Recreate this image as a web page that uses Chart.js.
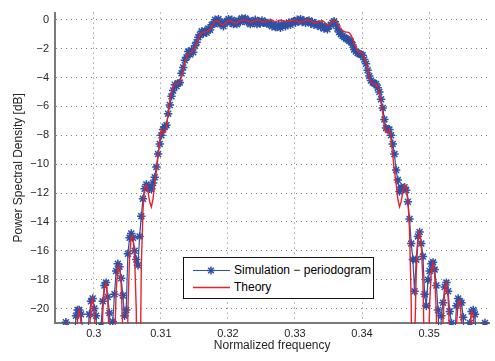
<!DOCTYPE html>
<html>
<head>
<meta charset="utf-8">
<script src="https://cdn.jsdelivr.net/npm/chart.js@4.4.1/dist/chart.umd.min.js"></script>
<style>
  html, body { margin: 0; padding: 0; background: #fff; overflow: hidden; }
  #wrap { position: relative; width: 495px; height: 361px; }
  #legend {
    position: absolute; left: 183px; top: 257px; width: 189px; height: 40px;
    border: 1px solid #111; background: #fff;
    font: 12px "Liberation Sans", Arial, Helvetica, sans-serif; color: #000;
  }
  #legend svg { position: absolute; left: 0; top: 0; }
  #legend .txt { position: absolute; left: 50px; line-height: 14px; white-space: nowrap; }
</style>
</head>
<body>
<div id="wrap">
  <canvas id="psdChart" width="495" height="361"></canvas>
  <div id="legend">
    <svg width="48" height="40">
      <line x1="9" y1="12.5" x2="46" y2="12.5" stroke="#2E50A5" stroke-width="1.2"/>
      <g stroke="#2E50A5" stroke-width="1.5">
        <line x1="23" y1="12.5" x2="31" y2="12.5"/>
        <line x1="27" y1="8.5" x2="27" y2="16.5"/>
        <line x1="24.2" y1="9.7" x2="29.8" y2="15.3"/>
        <line x1="24.2" y1="15.3" x2="29.8" y2="9.7"/>
      </g>
      <line x1="9" y1="29.5" x2="46" y2="29.5" stroke="#E6232B" stroke-width="1.4"/>
    </svg>
    <span class="txt" style="top:5px">Simulation &#8722; periodogram</span>
    <span class="txt" style="top:22px">Theory</span>
  </div>
</div>
<script>
// Power spectral density: simulated periodogram vs theory

// periodogram bins (normalized frequency), uniform grid
const simFreqStart = 0.295835;
const simFreqStep = 0.00025;

const xTicks = [0.30, 0.31, 0.32, 0.33, 0.34, 0.35];
const yTicks = [-20, -18, -16, -14, -12, -10, -8, -6, -4, -2, 0];

// simulated periodogram [dB], one value per bin
const simDb = [
  -20.95, -21.4, -23, -25, -24, -22.5, -20.5, -20.1, -20.1, -20.4,
  -21.5, -24, -23, -21.8, -20.4, -19.5, -19.3, -20.0, -20.5, -23,
  -22.5, -21.2, -19.5, -18.4, -18.2, -19.2, -20.3, -22.5, -20.9, -19.0,
  -17.4, -16.9, -17.1, -17.9, -19.1, -20.5, -20.1, -16.2, -15.1, -14.8,
  -15.1, -16.0, -16.6, -17.0, -15.0, -13.6, -12.4, -11.7, -11.4, -11.6,
  -11.7, -11.7, -11.3, -10.9, -10.2, -9.3, -8.6, -8.0, -7.6, -7.4,
  -7.3, -6.5, -5.9, -5.3, -4.9, -4.5, -4.6, -4.4, -4.35, -3.7,
  -3.3, -2.8, -2.6, -2.2, -2.4, -2.1, -2.25, -1.8, -1.55, -1.2,
  -1.05, -0.8, -0.95, -0.75, -0.9, -0.6, -0.7, -0.35, -0.3, 0,
  -0.2, 0.05, -0.3, -0.2, -0.45, -0.15, -0.1, 0.05, -0.2, 0,
  -0.3, -0.15, -0.3, -0.05, -0.15, 0.1, -0.05, 0.1, -0.15, -0.05,
  -0.3, -0.1, -0.2, 0, -0.3, -0.1, -0.25, -0.05, -0.2, -0.15,
  -0.25, -0.3, -0.2, -0.45, -0.35, -0.5, -0.5, -0.35, -0.55, -0.4,
  -0.3, -0.45, -0.3, -0.2, -0.35, -0.15, -0.1, -0.2, 0, -0.1,
  0.05, -0.15, -0.05, -0.2, -0.1, -0.05, -0.25, -0.15, -0.35, -0.25,
  -0.4, -0.3, -0.5, -0.4, -0.6, -0.55, -0.65, -0.45, -0.35, -0.2,
  -0.1, -0.3, -0.6, -0.85, -1.0, -1.1, -1.2, -1.3, -1.35, -1.45,
  -1.5, -1.75, -2.05, -2.2, -2.3, -2.35, -2.4, -2.45, -2.75, -3.05,
  -3.5, -3.9, -4.2, -4.35, -4.4, -4.45, -4.7, -5.0, -5.5, -6.1,
  -6.9, -7.5, -7.6, -7.6, -8.0, -8.6, -9.3, -10.4, -11.1, -11.9,
  -11.6, -11.7, -11.6, -11.8, -12.6, -13.8, -15.5, -16.6, -18.8, -16.6,
  -15.0, -14.7, -15.5, -16.4, -19.0, -19.8, -18.0, -17.4, -16.9, -16.8,
  -17.3, -18.4, -20.1, -23, -20.5, -19.6, -18.5, -18.2, -18.8, -20.2,
  -21.0, -25, -22, -19.8, -19.3, -19.5, -19.6, -20.6, -23, -27,
  -23, -21.0, -20.2, -20.1, -20.4, -22.5, -26, -28, -24, -22,
  -21.0
];

// theoretical PSD [dB] on the same bins
const theoryDb = [
  -20.9, -21.6, -24.0, -29.6, -40, -28.1, -22.9, -20.7, -20.1, -20.95,
  -23.6, -29.6, -40, -26.6, -21.8, -19.75, -19.33, -20.3, -23.2, -29.8,
  -40, -24.7, -20.3, -18.55, -18.26, -19.45, -22.6, -29.7, -40, -22.7,
  -18.8, -17.15, -17.0, -18.35, -21.7, -29.9, -40, -20.1, -16.45, -14.97,
  -14.97, -16.45, -20.1, -29.8, -28.3, -17.1, -13.2, -11.6, -11.45, -11.9,
  -12.6, -12.95, -12.4, -11.3, -10.5, -9.4, -8.3, -7.6, -7.8, -7.8,
  -7.4, -6.5, -5.6, -5.05, -4.65, -4.45, -4.45, -4.4, -4.3, -3.95,
  -3.4, -2.95, -2.6, -2.35, -2.25, -2.25, -2.15, -1.9, -1.65, -1.3,
  -1.05, -0.9, -0.85, -0.85, -0.8, -0.75, -0.65, -0.45, -0.25, -0.1,
  -0.07, -0.12, -0.25, -0.35, -0.35, -0.25, -0.13, -0.07, -0.08, -0.12,
  -0.18, -0.22, -0.2, -0.14, -0.07, -0.02, 0, -0.02, -0.08, -0.14,
  -0.17, -0.15, -0.1, -0.05, -0.03, -0.04, -0.08, -0.12, -0.14, -0.12,
  -0.08, -0.04, -0.03, -0.05, -0.09, -0.11, -0.09, -0.05, -0.03, -0.04,
  -0.08, -0.12, -0.14, -0.12, -0.08, -0.04, -0.03, -0.05, -0.1, -0.15,
  -0.17, -0.14, -0.08, -0.02, 0, -0.02, -0.07, -0.14, -0.2, -0.22,
  -0.18, -0.12, -0.08, -0.07, -0.13, -0.25, -0.35, -0.35, -0.25, -0.12,
  -0.07, -0.1, -0.25, -0.45, -0.65, -0.75, -0.8, -0.85, -0.85, -0.9,
  -1.05, -1.3, -1.65, -1.9, -2.15, -2.25, -2.25, -2.35, -2.6, -2.95,
  -3.4, -3.95, -4.3, -4.4, -4.45, -4.45, -4.65, -5.05, -5.6, -6.5,
  -7.4, -7.8, -7.8, -7.6, -8.3, -9.4, -10.5, -11.3, -12.4, -12.95,
  -12.6, -11.9, -11.45, -11.5, -12.4, -14.6, -19.5, -40, -22.7, -17.5,
  -15.27, -14.7, -15.55, -18.2, -24.2, -40, -24.9, -19.65, -17.4, -16.85,
  -17.7, -20.35, -26.4, -40, -25.5, -20.7, -18.65, -18.23, -19.2, -22.1,
  -28.7, -40, -25.1, -21.2, -19.55, -19.41, -20.75, -24.1, -32.3, -40,
  -24.9, -21.55, -20.21, -20.35, -22.0, -25.9, -40, -34, -25.7, -22.35,
  -21.0
];

const blue = '#2E50A5';
const red = '#E6232B';
const fontFamily = '"Liberation Sans", Arial, Helvetica, sans-serif';
const textColor = '#262626';

const freqs = simDb.map((_, i) => simFreqStart + i * simFreqStep);

function fmtMinus(v) {
  const s = String(Math.round(v * 100) / 100);
  return s.replace('-', '\u2212');
}

const ctx = document.getElementById('psdChart');

new Chart(ctx, {
  type: 'line',
  data: {
    datasets: [
      {
        label: 'Theory',
        data: theoryDb.map((v, i) => ({ x: freqs[i], y: v })),
        borderColor: red,
        borderWidth: 1.4,
        pointRadius: 0,
        tension: 0,
        clip: 1,
        order: 0
      },
      {
        label: 'Simulation \u2212 periodogram',
        data: simDb.map((v, i) => ({ x: freqs[i], y: v })),
        borderColor: blue,
        borderWidth: 1.2,
        pointStyle: 'star',
        pointRadius: 4.2,
        pointBorderColor: blue,
        pointBackgroundColor: blue,
        pointBorderWidth: 1.5,
        tension: 0,
        clip: 2,
        order: 1
      }
    ]
  },
  options: {
    responsive: false,
    animation: false,
    devicePixelRatio: 1,
    layout: { padding: 0 },
    plugins: {
      legend: { display: false },
      tooltip: { enabled: false }
    },
    scales: {
      x: {
        type: 'linear',
        min: 0.294216,
        max: 0.358979,
        afterFit: (s) => { s.height = 38; },
        afterBuildTicks: (s) => { s.ticks = xTicks.map(v => ({ value: v })); },
        ticks: {
          callback: (v) => fmtMinus(v),
          font: { family: fontFamily, size: 11 },
          color: textColor,
          padding: 4,
          maxRotation: 0,
          autoSkip: false
        },
        grid: { color: '#7a7a7a', lineWidth: 1, drawTicks: false },
        border: { color: '#7a7a7a', width: 2, dash: [1, 4] },
        title: {
          display: true,
          text: 'Normalized frequency',
          font: { family: fontFamily, size: 12 },
          color: textColor,
          padding: { top: 0, bottom: 8 }
        }
      },
      y: {
        type: 'linear',
        min: -21,
        max: 0.5,
        afterFit: (s) => { s.width = 55; },
        afterBuildTicks: (s) => { s.ticks = yTicks.map(v => ({ value: v })); },
        ticks: {
          callback: (v) => fmtMinus(v),
          font: { family: fontFamily, size: 11 },
          color: textColor,
          padding: 6
        },
        grid: { color: '#7a7a7a', lineWidth: 1, drawTicks: false },
        border: { color: '#7a7a7a', width: 2, dash: [1, 4] },
        title: {
          display: true,
          text: 'Power Spectral Density [dB]',
          font: { family: fontFamily, size: 12 },
          color: textColor,
          padding: { top: 11, bottom: 0 }
        }
      }
    }
  }
});
</script>
</body>
</html>
